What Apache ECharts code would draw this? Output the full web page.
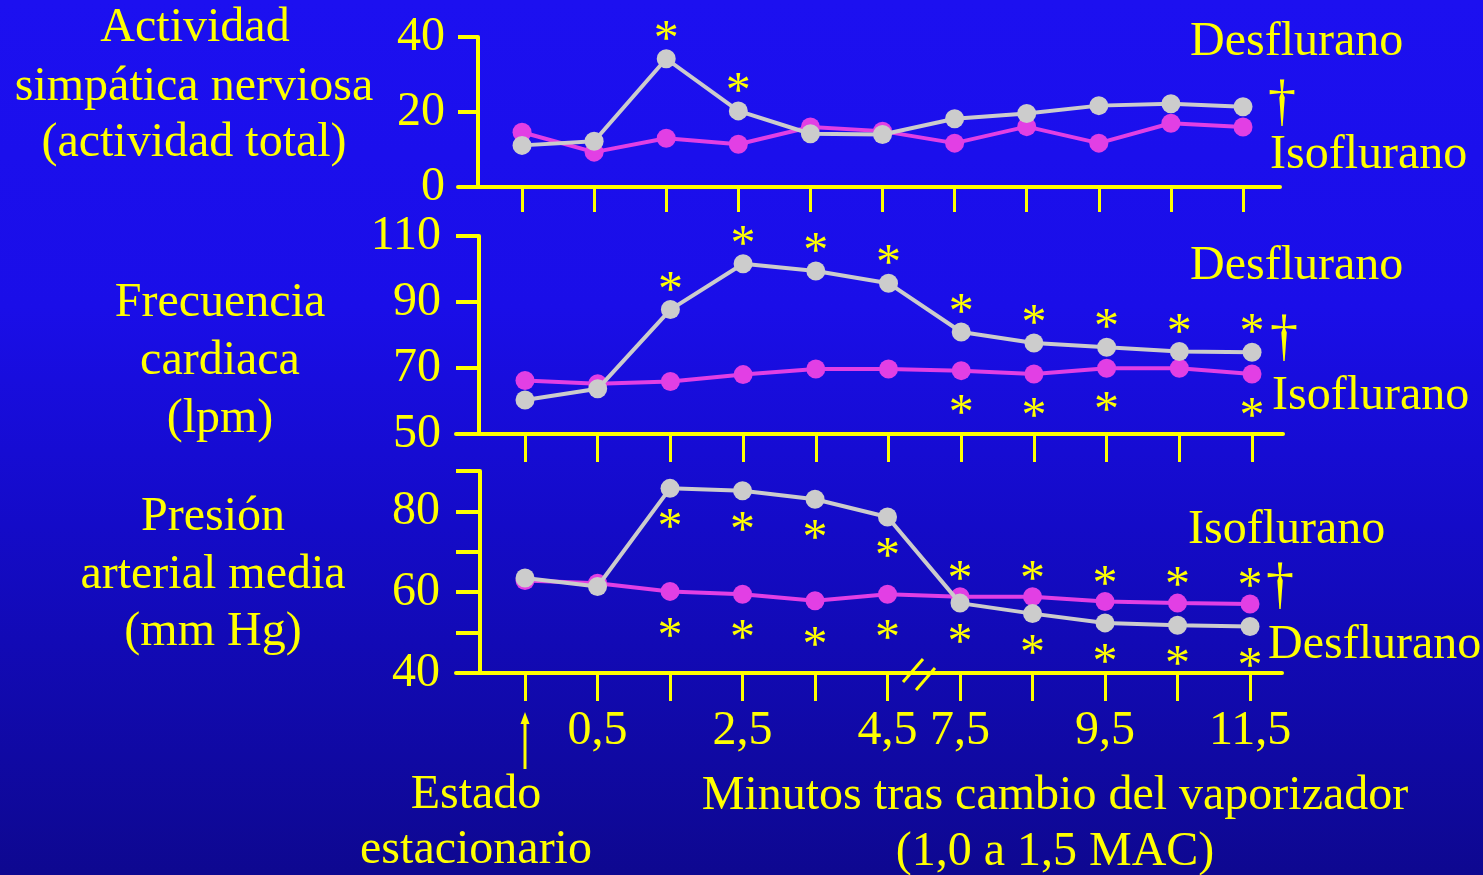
<!DOCTYPE html>
<html>
<head>
<meta charset="utf-8">
<script src="https://cdn.jsdelivr.net/npm/echarts@6/dist/echarts.min.js"></script>
<style>
  html, body { margin: 0; padding: 0; background: #1208b8; }
  #chart { width: 1483px; height: 875px; }
</style>
</head>
<body>
<div id="chart"></div>
<script>
// Time points after the vaporizer change; index 0 is the steady state
const timePoints = ['Estado estacionario', '0,5', '1,5', '2,5', '3,5', '4,5', '7,5', '8,5', '9,5', '10,5', '11,5'];
const xTickIndex = [0, 1, 2, 3, 4, 5, 6, 7, 8, 9, 10];
const xLabelIndex = [1, 3, 5, 6, 8, 10];

// Sympathetic nerve activity (total activity)
const snaDesflurane = [11.1, 12.2, 34.2, 20.3, 14.2, 14.0, 18.2, 19.6, 21.7, 22.2, 21.4];
const snaIsoflurane = [14.6, 9.3, 13.0, 11.4, 16.0, 14.9, 11.7, 16.1, 11.7, 17.0, 16.0];
const snaDesSig = [0, 0, 1, 1, 0, 0, 0, 0, 0, 0, 0];
const snaTicks = [0, 20, 40];

// Heart rate (bpm)
const hrDesflurane = [60.3, 63.7, 87.7, 101.6, 99.4, 95.7, 80.9, 77.6, 76.3, 75.0, 74.8];
const hrIsoflurane = [66.2, 65.2, 65.9, 68.0, 69.7, 69.7, 69.2, 68.2, 69.9, 69.9, 68.2];
const hrDesSig = [0, 0, 1, 1, 1, 1, 1, 1, 1, 1, 1];
const hrIsoSig = [0, 0, 0, 0, 0, 0, 1, 1, 1, 0, 1];
const hrTicks = [50, 70, 90, 110];

// Mean arterial pressure (mm Hg)
const mapDesflurane = [63.5, 61.4, 85.7, 85.1, 83.0, 78.6, 57.3, 54.7, 52.4, 51.8, 51.5];
const mapIsoflurane = [62.9, 62.2, 60.2, 59.5, 57.9, 59.5, 58.9, 58.9, 57.7, 57.3, 57.1];
const mapDesSig = [0, 0, 1, 1, 1, 1, 1, 1, 1, 1, 1];
const mapIsoSigBelow = [0, 0, 1, 1, 1, 1, 0, 0, 0, 0, 0];
const mapIsoSigAbove = [0, 0, 0, 0, 0, 0, 1, 1, 1, 1, 1];
const mapTicks = [40, 50, 60, 70, 80, 90];
const mapLabels = [40, 60, 80];

const YELLOW = '#ffff00';
const GRAY = '#cccccc';
const MAGENTA = '#e23fe4';
const SERIF = '"Liberation Serif", "Times New Roman", serif';

// Point list with an asterisk label on flagged points
function points(values, sig, dy) {
  return values.map((v, i) => {
    const item = { value: [i, v] };
    if (sig && sig[i]) {
      item.label = {
        show: true, position: 'inside', offset: [0, dy], formatter: '*',
        color: YELLOW, fontSize: 50, fontFamily: SERIF
      };
    }
    return item;
  });
}
// Merge two flag sets into one point list (above / below)
function pointsTwo(values, sigA, dyA, sigB, dyB) {
  const a = points(values, sigA, dyA);
  const b = points(values, sigB, dyB);
  return a.map((p, i) => (b[i].label ? b[i] : p));
}

function lineSeries(name, color, idx, data, z) {
  return {
    name, type: 'line', xAxisIndex: idx, yAxisIndex: idx, data,
    symbol: 'circle', symbolSize: 19, z,
    lineStyle: { color, width: 4 },
    itemStyle: { color },
    label: { show: false },
    emphasis: { disabled: true }
  };
}

function xAxisFor(idx, min, max, tickLen, showLabels) {
  return {
    type: 'value', gridIndex: idx, min, max,
    axisLine: { show: true, onZero: false, lineStyle: { color: YELLOW, width: 4 } },
    axisTick: { show: true, customValues: xTickIndex, length: tickLen, lineStyle: { color: YELLOW, width: 3 } },
    axisLabel: {
      show: showLabels, customValues: xLabelIndex, margin: 34,
      formatter: v => timePoints[Math.round(v)],
      color: YELLOW, fontSize: 48, fontFamily: SERIF
    },
    splitLine: { show: false }
  };
}

function yAxisFor(idx, min, max, ticks, labels, offset, margin) {
  return {
    type: 'value', gridIndex: idx, min, max, offset,
    axisLine: { show: true, onZero: false, lineStyle: { color: YELLOW, width: 4 } },
    axisTick: { show: true, customValues: ticks, length: -offset, lineStyle: { color: YELLOW, width: 4 } },
    axisLabel: {
      customValues: labels, margin, color: YELLOW, fontSize: 48, fontFamily: SERIF
    },
    splitLine: { show: false }
  };
}

function txt(text, x, y, align, size) {
  return {
    type: 'text', z: 100, silent: true,
    style: {
      text, x, y, fill: YELLOW, font: (size || 48) + 'px ' + SERIF,
      textAlign: align || 'center', textVerticalAlign: 'middle', verticalAlign: 'middle'
    }
  };
}

const chart = echarts.init(document.getElementById('chart'), null, { renderer: 'canvas' });

chart.setOption({
  animation: false,
  backgroundColor: {
    type: 'linear', x: 0, y: 0, x2: 0, y2: 1,
    colorStops: [
      { offset: 0, color: '#1c10f0' },
      { offset: 0.35, color: '#1a0ee8' },
      { offset: 0.6, color: '#140bc8' },
      { offset: 1, color: '#0e0890' }
    ]
  },
  grid: [
    { left: 458, right: 203, top: 37, height: 150 },
    { left: 456, right: 200, top: 236, height: 198 },
    { left: 456, right: 201, top: 471, height: 202 }
  ],
  xAxis: [
    xAxisFor(0, -0.888, 10.513, 25, false),
    xAxisFor(1, -0.949, 10.426, 28, false),
    xAxisFor(2, -0.952, 10.441, 28, true)
  ],
  yAxis: [
    yAxisFor(0, 0, 40, snaTicks, snaTicks, -20, 33),
    yAxisFor(1, 50, 110, hrTicks, hrTicks, -23, 38),
    yAxisFor(2, 40, 90, mapTicks, mapLabels, -24, 40)
  ],
  series: [
    lineSeries('Isoflurano', MAGENTA, 0, points(snaIsoflurane), 2),
    lineSeries('Desflurano', GRAY, 0, points(snaDesflurane, snaDesSig, -18), 3),
    lineSeries('Isoflurano', MAGENTA, 1, points(hrIsoflurane, hrIsoSig, 44), 2),
    lineSeries('Desflurano', GRAY, 1, points(hrDesflurane, hrDesSig, -18), 3),
    lineSeries('Isoflurano', MAGENTA, 2, pointsTwo(mapIsoflurane, mapIsoSigBelow, 46, mapIsoSigAbove, -16), 2),
    lineSeries('Desflurano', GRAY, 2, points(mapDesflurane, mapDesSig, 41), 3)
  ],
  graphic: [
    // Panel titles
    txt('Actividad', 195, 28),
    txt('simpática nerviosa', 194, 87),
    txt('(actividad total)', 194, 143),
    txt('Frecuencia', 220, 303),
    txt('cardiaca', 220, 361),
    txt('(lpm)', 220, 419),
    txt('Presión', 213, 517),
    txt('arterial media', 213, 575),
    txt('(mm Hg)', 213, 632),
    // Series names and significance mark
    txt('Desflurano', 1190, 42, 'left'),
    txt('†', 1282, 104, 'center', 56),
    txt('Isoflurano', 1270, 155, 'left'),
    txt('Desflurano', 1190, 266, 'left'),
    txt('†', 1284, 339, 'center', 56),
    txt('Isoflurano', 1272, 396, 'left'),
    txt('Isoflurano', 1188, 530, 'left'),
    txt('†', 1280, 587, 'center', 56),
    txt('Desflurano', 1268, 645, 'left'),
    // Axis captions
    txt('Estado', 476, 795),
    txt('estacionario', 476, 850),
    txt('Minutos tras cambio del vaporizador', 1055, 796),
    txt('(1,0 a 1,5 MAC)', 1055, 852),
    // Steady-state arrow
    { type: 'line', z: 100, silent: true, shape: { x1: 525, y1: 722, x2: 525, y2: 769 },
      style: { stroke: YELLOW, lineWidth: 3 } },
    { type: 'polygon', z: 100, silent: true, shape: { points: [[525, 712], [520.5, 724], [529.5, 724]] },
      style: { fill: YELLOW } },
    // Axis break on the time axis
    { type: 'line', z: 100, silent: true, shape: { x1: 923, y1: 659, x2: 903, y2: 682 },
      style: { stroke: YELLOW, lineWidth: 3 } },
    { type: 'line', z: 100, silent: true, shape: { x1: 935, y1: 668, x2: 916, y2: 690 },
      style: { stroke: YELLOW, lineWidth: 3 } }
  ]
});
</script>
</body>
</html>
